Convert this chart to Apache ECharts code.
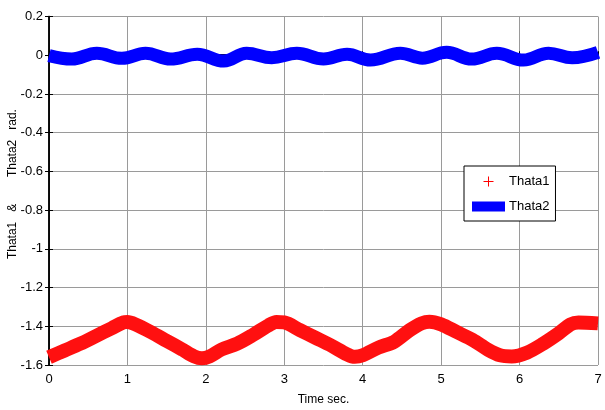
<!DOCTYPE html>
<html>
<head>
<meta charset="utf-8">
<script src="https://cdn.jsdelivr.net/npm/echarts@6/dist/echarts.min.js"></script>
<style>
html,body{margin:0;padding:0;background:#fff;}
#c{width:605px;height:410px;}
</style>
</head>
<body>
<div id="c"></div>
<script>
// Thata1 (red) time / value samples
var redT = [0, 0.2, 0.4, 0.6, 0.8, 0.95, 1.0, 1.1, 1.3, 1.5, 1.7, 1.85, 1.95, 2.05, 2.2, 2.4, 2.6, 2.8, 2.9, 3.0, 3.2, 3.4, 3.6, 3.8, 3.9, 4.0, 4.2, 4.4, 4.6, 4.75, 4.85, 5.0, 5.2, 5.4, 5.6, 5.75, 5.9, 6.1, 6.3, 6.5, 6.65, 6.75, 7.0];
var redV = [-1.56, -1.525, -1.49, -1.45, -1.41, -1.38, -1.378, -1.39, -1.43, -1.475, -1.52, -1.555, -1.565, -1.555, -1.52, -1.49, -1.445, -1.395, -1.378, -1.38, -1.42, -1.46, -1.5, -1.545, -1.558, -1.55, -1.51, -1.48, -1.42, -1.385, -1.376, -1.39, -1.43, -1.47, -1.522, -1.55, -1.556, -1.535, -1.49, -1.436, -1.39, -1.38, -1.385];
// Thata2 (blue)
var blueT = [0, 0.29, 0.61, 0.93, 1.23, 1.55, 1.89, 2.23, 2.52, 2.84, 3.16, 3.5, 3.8, 4.1, 4.48, 4.76, 5.07, 5.39, 5.71, 6.05, 6.37, 6.67, 7.0];
var blueV = [-0.002, -0.02, 0.01, -0.016, 0.01, -0.02, 0.005, -0.03, 0.01, -0.013, 0.01, -0.02, 0.005, -0.025, 0.01, -0.015, 0.015, -0.02, 0.01, -0.025, 0.01, -0.013, 0.015];
var xTicks = [0, 1, 2, 3, 4, 5, 6, 7];
var yTicks = [0.2, 0, -0.2, -0.4, -0.6, -0.8, -1, -1.2, -1.4, -1.6];
var seriesNames = ['Thata1', 'Thata2'];

function zip(a, b) { return a.map(function (v, i) { return [v, b[i]]; }); }

var FONT = "'Liberation Sans',Arial,sans-serif";
var chart = echarts.init(document.getElementById('c'), null, {renderer: 'canvas'});
var axisLine = {show: true, lineStyle: {color: '#000', width: 1.5}};
var tick = {show: true, inside: true, length: 4, lineStyle: {color: '#000', width: 1}};

chart.setOption({
  animation: false,
  backgroundColor: '#fff',
  grid: {left: 49, right: 7, top: 16.5, bottom: 45, containLabel: false, outerBoundsMode: 'none'},
  legend: {
    orient: 'vertical',
    left: 464, top: 166,
    padding: [9, 6, 8, 8],
    itemWidth: 33, itemHeight: 10, itemGap: 12,
    backgroundColor: '#fff',
    borderColor: '#000', borderWidth: 1, borderRadius: 0,
    textStyle: {fontFamily: FONT, fontSize: 13, color: '#000', padding: [0,0,0,-1]},
    data: [
      {name: seriesNames[0], icon: 'path://M4.5,0h1v10h-1z M0,4.5h10v1h-10z', itemStyle: {color: '#ff0000', borderWidth: 0}},
      {name: seriesNames[1], icon: 'rect', itemStyle: {color: '#0000ff', borderWidth: 0}}
    ]
  },
  xAxis: [{
    type: 'value', min: 0, max: 7, interval: 1, position: 'bottom',
    name: 'Time sec.', nameLocation: 'middle', nameGap: 29, nameMoveOverlap: false,
    nameTextStyle: {fontFamily: FONT, fontSize: 12, color: '#000'},
    axisLine: axisLine, axisTick: tick,
    axisLabel: {fontFamily: FONT, fontSize: 13, color: '#000', margin: 8,
      formatter: function (v) { return xTicks.indexOf(v) >= 0 ? String(v) : ''; }},
    splitLine: {show: true, lineStyle: {color: '#9a9a9a', width: 1}}
  }, {
    type: 'value', min: 0, max: 7, interval: 1, position: 'top',
    axisLine: axisLine, axisTick: tick, axisLabel: {show: false}, splitLine: {show: false}
  }],
  yAxis: [{
    type: 'value', min: -1.6, max: 0.2, interval: 0.2, position: 'left',
    name: '    Thata1   &        Thata2   rad.', nameLocation: 'middle', nameGap: 30, nameMoveOverlap: false,
    nameTextStyle: {fontFamily: FONT, fontSize: 12, color: '#000'},
    axisLine: axisLine, axisTick: tick,
    axisLabel: {fontFamily: FONT, fontSize: 13, color: '#000', margin: 6,
      formatter: function (v) { var r = Math.round(v * 10) / 10; return String(r); }},
    splitLine: {show: true, lineStyle: {color: '#9a9a9a', width: 1}}
  }, {
    type: 'value', min: -1.6, max: 0.2, interval: 0.2, position: 'right',
    axisLine: axisLine, axisTick: tick, axisLabel: {show: false}, splitLine: {show: false}
  }],
  series: [{
    name: seriesNames[0], type: 'line', xAxisIndex: 0, yAxisIndex: 0,
    data: zip(redT, redV), showSymbol: false, symbol: 'none', smooth: 0.3,
    itemStyle: {color: '#ff0000'},
    lineStyle: {color: '#ff1010', width: 14}, z: 3
  }, {
    name: seriesNames[1], type: 'line', xAxisIndex: 0, yAxisIndex: 0,
    data: zip(blueT, blueV), showSymbol: false, symbol: 'none', smooth: 0.4,
    itemStyle: {color: '#0000ff'},
    lineStyle: {color: '#0000ff', width: 13}, z: 3
  }]
});
</script>
</body>
</html>
